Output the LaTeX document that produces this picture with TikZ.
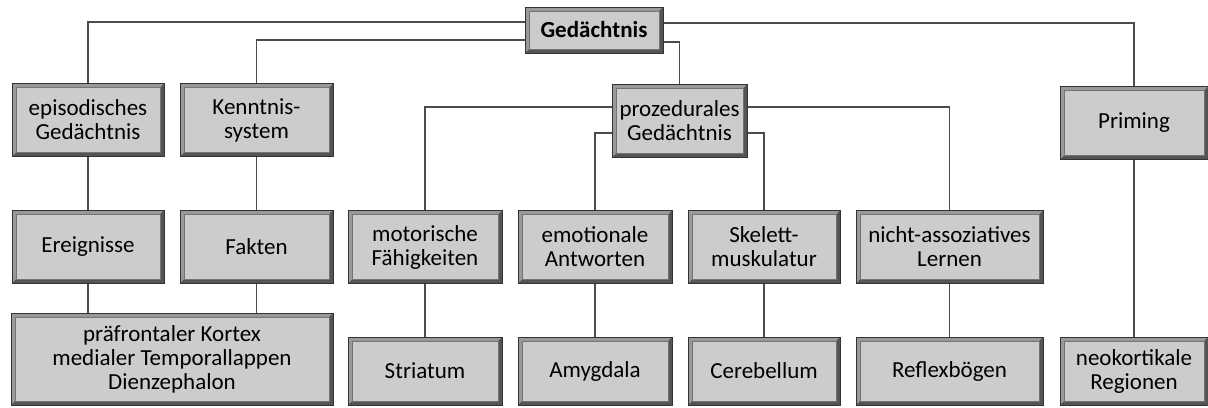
\documentclass[tikz,border=0pt]{standalone}
\usepackage{fontspec}
\setmainfont{Carlito}
\usepackage{tikz}
\usetikzlibrary{positioning,calc}
\definecolor{boxgray}{gray}{0.80}
\definecolor{bevellight}{gray}{0.60}
\definecolor{beveldark}{gray}{0.33}
\definecolor{linegray}{gray}{0.30}
\newcommand{\bevw}{2pt}

\begin{document}
\begin{tikzpicture}[x=0.5pt,y=-0.5pt,
	box/.style={rectangle, fill=boxgray, draw=black!80, line width=0.5pt, inner sep=0pt,
		align=center, font=\fontsize{11.5}{12}\selectfont, minimum height=36.5pt,
		path picture={
			\fill[bevellight] (path picture bounding box.north west) -- (path picture bounding box.north east)
				-- ([shift={(-\bevw,-\bevw)}]path picture bounding box.north east)
				-- ([shift={(\bevw,-\bevw)}]path picture bounding box.north west)
				-- ([shift={(\bevw,\bevw)}]path picture bounding box.south west)
				-- (path picture bounding box.south west) -- cycle;
			\fill[beveldark] (path picture bounding box.south east) -- (path picture bounding box.north east)
				-- ([shift={(-\bevw,-\bevw)}]path picture bounding box.north east)
				-- ([shift={(-\bevw,\bevw)}]path picture bounding box.south east)
				-- ([shift={(\bevw,\bevw)}]path picture bounding box.south west)
				-- (path picture bounding box.south west) -- cycle;
			\draw[black!55, line width=0.3pt] ([shift={(\bevw,-\bevw)}]path picture bounding box.north west)
				rectangle ([shift={(-\bevw,\bevw)}]path picture bounding box.south east);
		}},
	link/.style={draw=linegray, line width=0.6pt}]
	\useasboundingbox (0,0) rectangle (1208,407);

	\node[box, font=\fontsize{11.5}{12}\selectfont\bfseries, minimum width=69pt, minimum height=23pt] (ged) at (594,30) {Gedächtnis};

	\node[box, minimum width=76pt] (epi) at (88,120) {episodisches\\Gedächtnis};
	\node[box, minimum width=76.5pt] (kenn) at (256.5,120) {Kenntnis-\\system};
	\node[box, minimum width=67.5pt] (proz) at (679.5,121) {prozedurales\\Gedächtnis};
	\node[box, minimum width=74pt] (prim) at (1134,123) {Priming};

	\node[box, minimum width=76pt] (ereig) at (88,246.5) {Ereignisse};
	\node[box, minimum width=76.5pt] (fakt) at (256.5,246.5) {Fakten};
	\node[box, minimum width=77pt] (mot) at (425,247) {motorische\\Fähigkeiten};
	\node[box, minimum width=77pt] (emo) at (595,247) {emotionale\\Antworten};
	\node[box, minimum width=76pt] (skel) at (764,247) {Skelett-\\muskulatur};
	\node[box, minimum width=93.5pt] (nicht) at (949.5,247) {nicht-assoziatives\\Lernen};

	\node[box, minimum width=161pt, minimum height=46pt] (kortex) at (172,359) {präfrontaler Kortex\\medialer Temporallappen\\Dienzephalon};
	\node[box, minimum width=77pt, minimum height=34pt] (stri) at (425,371) {Striatum};
	\node[box, minimum width=77pt, minimum height=34pt] (amy) at (595,371) {Amygdala};
	\node[box, minimum width=76pt, minimum height=34pt] (cere) at (764,371) {Cerebellum};
	\node[box, minimum width=93.5pt, minimum height=34pt] (refl) at (949.5,371) {Reflexbögen};
	\node[box, minimum width=74pt, minimum height=34pt] (neo) at (1134,371) {neokortikale\\Regionen};

	\draw[link] ([yshift=4pt]ged.west) -| (epi.north);
	\draw[link] ([yshift=-5pt]ged.west) -| (kenn.north);
	\draw[link] ([yshift=3.5pt]ged.east) -| (prim.north);
	\draw[link] ([yshift=-6pt]ged.east) -| (proz.north);

	\draw[link] ([yshift=7pt]proz.west) -| (mot.north);
	\draw[link] ([yshift=-6pt]proz.west) -| (emo.north);
	\draw[link] ([yshift=7pt]proz.east) -| (nicht.north);
	\draw[link] ([yshift=-6pt]proz.east) -| (skel.north);

	\draw[link] (epi) -- (ereig);
	\draw[link] (kenn) -- (fakt);
	\draw[link] (ereig.south) -- (ereig.south |- kortex.north);
	\draw[link] (fakt.south) -- (fakt.south |- kortex.north);
	\draw[link] (mot) -- (stri);
	\draw[link] (emo) -- (amy);
	\draw[link] (skel) -- (cere);
	\draw[link] (nicht) -- (refl);
	\draw[link] (prim) -- (neo);
\end{tikzpicture}
\end{document}
